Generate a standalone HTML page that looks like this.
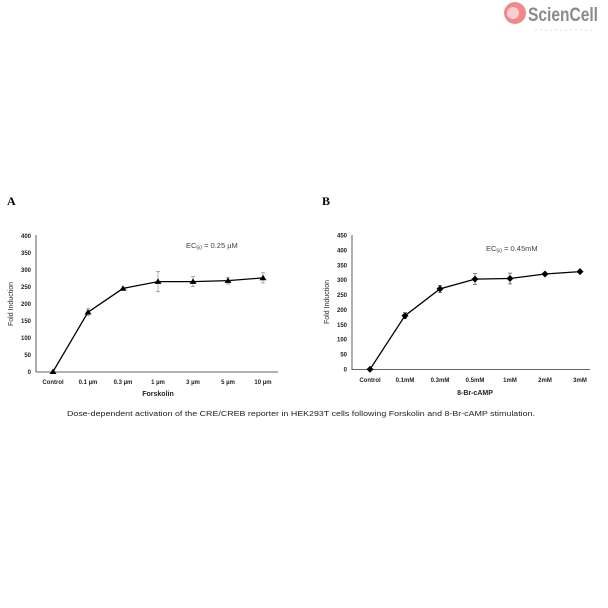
<!DOCTYPE html>
<html><head><style>body{margin:0;background:#fff}svg{display:block}</style></head><body>
<svg width="608" height="608" viewBox="0 0 608 608" xmlns="http://www.w3.org/2000/svg" font-family="Liberation Sans, sans-serif">
<!-- logo -->
<circle cx="515" cy="13" r="11" fill="#f08a8a"/>
<circle cx="513" cy="13" r="6" fill="#f6d0d0"/>
<text x="528" y="21" font-size="19" font-weight="bold" fill="#8a8a8a" textLength="70" lengthAdjust="spacingAndGlyphs">ScienCell</text>
<line x1="535" y1="30" x2="595" y2="30" stroke="#ddd" stroke-width="1" stroke-dasharray="2,3"/>

<text x="7" y="205" font-family="Liberation Serif, serif" font-weight="bold" font-size="12">A</text>
<text x="322" y="205" font-family="Liberation Serif, serif" font-weight="bold" font-size="12">B</text>

<!-- Chart A -->
<g font-size="6" fill="#222">
<line x1="36" y1="235" x2="36" y2="372" stroke="#333" stroke-width="0.8"/>
<line x1="36" y1="372" x2="278" y2="372" stroke="#333" stroke-width="0.8"/>
<g text-anchor="end" font-weight="bold">
<text x="31" y="374">0</text><text x="31" y="357">50</text><text x="31" y="340">100</text><text x="31" y="323">150</text><text x="31" y="306">200</text><text x="31" y="289">250</text><text x="31" y="272">300</text><text x="31" y="255">350</text><text x="31" y="238">400</text>
</g>
<text transform="translate(13,304) rotate(-90)" text-anchor="middle" font-size="7">Fold Induction</text>
<g text-anchor="middle" font-weight="bold">
<text x="53" y="384">Control</text><text x="88" y="384">0.1 µm</text><text x="123" y="384">0.3 µm</text><text x="158" y="384">1 µm</text><text x="193" y="384">3 µm</text><text x="228" y="384">5 µm</text><text x="263" y="384">10 µm</text>
<text x="158" y="396" font-size="7">Forskolin</text>
</g>
<text x="186" y="248" font-size="7.5" fill="#444">EC<tspan font-size="5" dy="1.5">50</tspan><tspan dy="-1.5"> = 0.25 µM</tspan></text>
<g stroke="#777" stroke-width="0.6">
<line x1="88" y1="308.8" x2="88" y2="315.6"/><line x1="86" y1="308.8" x2="90" y2="308.8"/><line x1="86" y1="315.6" x2="90" y2="315.6"/>
<line x1="158" y1="271.4" x2="158" y2="291.8"/><line x1="156" y1="271.4" x2="160" y2="271.4"/><line x1="156" y1="291.8" x2="160" y2="291.8"/>
<line x1="193" y1="276.5" x2="193" y2="286.7"/><line x1="191" y1="276.5" x2="195" y2="276.5"/><line x1="191" y1="286.7" x2="195" y2="286.7"/>
<line x1="228" y1="277.2" x2="228" y2="284"/><line x1="226" y1="277.2" x2="230" y2="277.2"/><line x1="226" y1="284" x2="230" y2="284"/>
<line x1="263" y1="272.8" x2="263" y2="283"/><line x1="261" y1="272.8" x2="265" y2="272.8"/><line x1="261" y1="283" x2="265" y2="283"/>
</g>
<polyline points="53,371.7 88,312.2 123,288.4 158,281.6 193,281.6 228,280.6 263,277.9" fill="none" stroke="#000" stroke-width="1.3"/>
<g fill="#000">
<polygon points="53,368.5 49.5,374 56.5,374"/><polygon points="88,309 84.5,314.5 91.5,314.5"/><polygon points="123,285.2 119.5,290.7 126.5,290.7"/><polygon points="158,278.4 154.5,283.9 161.5,283.9"/><polygon points="193,278.4 189.5,283.9 196.5,283.9"/><polygon points="228,277.4 224.5,282.9 231.5,282.9"/><polygon points="263,274.7 259.5,280.2 266.5,280.2"/>
</g>
</g>

<!-- Chart B -->
<g font-size="6" fill="#222">
<line x1="352" y1="235" x2="352" y2="370" stroke="#333" stroke-width="0.8"/>
<line x1="352" y1="369.5" x2="590" y2="369.5" stroke="#333" stroke-width="0.8"/>
<g text-anchor="end" font-weight="bold">
<text x="347" y="371.5">0</text><text x="347" y="356.6">50</text><text x="347" y="341.7">100</text><text x="347" y="326.8">150</text><text x="347" y="311.9">200</text><text x="347" y="297">250</text><text x="347" y="282.2">300</text><text x="347" y="267.3">350</text><text x="347" y="252.4">400</text><text x="347" y="237.5">450</text>
</g>
<text transform="translate(329,302) rotate(-90)" text-anchor="middle" font-size="7">Fold Induction</text>
<g text-anchor="middle" font-weight="bold">
<text x="370" y="382">Control</text><text x="405" y="382">0.1mM</text><text x="440" y="382">0.3mM</text><text x="475" y="382">0.5mM</text><text x="510" y="382">1mM</text><text x="545" y="382">2mM</text><text x="580" y="382">3mM</text>
<text x="475" y="395" font-size="7">8-Br-cAMP</text>
</g>
<text x="486" y="251" font-size="7.5" fill="#444">EC<tspan font-size="5" dy="1.5">50</tspan><tspan dy="-1.5"> = 0.45mM</tspan></text>
<g stroke="#333" stroke-width="0.6">
<line x1="405" y1="312.7" x2="405" y2="318.7"/><line x1="403" y1="312.7" x2="407" y2="312.7"/><line x1="403" y1="318.7" x2="407" y2="318.7"/>
<line x1="440" y1="285.3" x2="440" y2="292.5"/><line x1="438" y1="285.3" x2="442" y2="285.3"/><line x1="438" y1="292.5" x2="442" y2="292.5"/>
<line x1="475" y1="273.7" x2="475" y2="284.5"/><line x1="473" y1="273.7" x2="477" y2="273.7"/><line x1="473" y1="284.5" x2="477" y2="284.5"/>
<line x1="510" y1="273.1" x2="510" y2="283.9"/><line x1="508" y1="273.1" x2="512" y2="273.1"/><line x1="508" y1="283.9" x2="512" y2="283.9"/>
</g>
<polyline points="370,369.3 405,315.7 440,288.9 475,279.1 510,278.5 545,274 580,271.6" fill="none" stroke="#000" stroke-width="1.3"/>
<g fill="#000">
<polygon points="370,365.8 373.5,369.3 370,372.8 366.5,369.3"/><polygon points="405,312.2 408.5,315.7 405,319.2 401.5,315.7"/><polygon points="440,285.4 443.5,288.9 440,292.4 436.5,288.9"/><polygon points="475,275.6 478.5,279.1 475,282.6 471.5,279.1"/><polygon points="510,275 513.5,278.5 510,282 506.5,278.5"/><polygon points="545,270.5 548.5,274 545,277.5 541.5,274"/><polygon points="580,268.1 583.5,271.6 580,275.1 576.5,271.6"/>
</g>
</g>

<text x="67" y="416" font-size="7.5" fill="#222" textLength="468" lengthAdjust="spacingAndGlyphs">Dose-dependent activation of the CRE/CREB reporter in HEK293T cells following Forskolin and 8-Br-cAMP stimulation.</text>
</svg>
</body></html>
